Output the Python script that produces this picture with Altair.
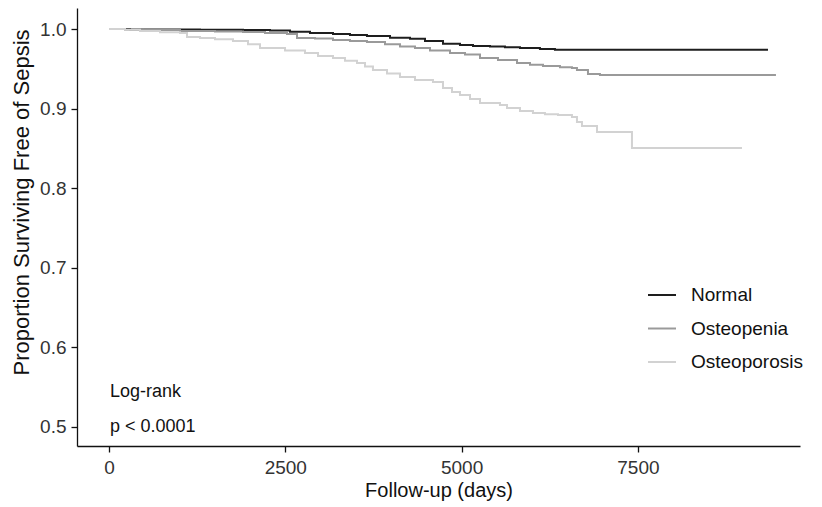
import altair as alt
import pandas as pd

groups = ["Normal", "Osteopenia", "Osteoporosis"]
colors = ["#1e1e1e", "#9a9a9a", "#d2d2d2"]

normal_days = [0, 298, 723, 1290, 1900, 2283, 2567, 2850, 3176, 3417, 3658, 3985, 4268,
               4481, 4736, 4977, 5162, 5403, 5615, 5828, 6111, 6324, 9345]
normal_surv = [1.0, 0.9995, 0.9993, 0.999, 0.9987, 0.998, 0.9966, 0.995, 0.9937, 0.9925,
               0.9912, 0.989, 0.9878, 0.985, 0.9815, 0.980, 0.9786, 0.978, 0.977, 0.9761,
               0.975, 0.974, 0.974]

osteopenia_days = [0, 227, 482, 1007, 1503, 1900, 2212, 2524, 2666, 2921, 3176, 3417, 3658,
                   3914, 4127, 4339, 4552, 4836, 5048, 5261, 5516, 5786, 5970, 6154, 6395,
                   6565, 6636, 6792, 6962, 9458]
osteopenia_surv = [1.0, 0.999, 0.9987, 0.9975, 0.997, 0.9962, 0.995, 0.9937, 0.9887, 0.988,
                   0.9862, 0.985, 0.9837, 0.981, 0.978, 0.976, 0.973, 0.9699, 0.968, 0.9636,
                   0.961, 0.9573, 0.955, 0.9535, 0.952, 0.951, 0.9485, 0.9435, 0.9422, 0.9422]

osteoporosis_days = [0, 227, 440, 723, 1007, 1106, 1290, 1503, 1758, 1971, 2141, 2496, 2779,
                     2964, 3176, 3346, 3517, 3630, 3743, 3942, 4126, 4339, 4594, 4736, 4864,
                     4977, 5119, 5261, 5544, 5644, 5828, 6012, 6182, 6367, 6565, 6636, 6707,
                     6920, 7416, 8976]
osteoporosis_surv = [1.0, 0.999, 0.9975, 0.996, 0.995, 0.99, 0.9887, 0.987, 0.985, 0.981,
                     0.9761, 0.973, 0.9699, 0.966, 0.9636, 0.96, 0.9573, 0.953, 0.9485, 0.944,
                     0.9397, 0.936, 0.9334, 0.9259, 0.921, 0.9171, 0.912, 0.907, 0.9045,
                     0.9008, 0.897, 0.8945, 0.893, 0.892, 0.8895, 0.8832, 0.8782, 0.8706,
                     0.8505, 0.8505]

x_ticks = [0, 2500, 5000, 7500]
y_ticks = [0.5, 0.6, 0.7, 0.8, 0.9, 1.0]
annot_text = ["Log-rank", "p < 0.0001"]
annot_y = [0.538, 0.4942]

rows = []
for g, d, s in [("Normal", normal_days, normal_surv),
                ("Osteopenia", osteopenia_days, osteopenia_surv),
                ("Osteoporosis", osteoporosis_days, osteoporosis_surv)]:
    for i, (dd, ss) in enumerate(zip(d, s)):
        rows.append({"group": g, "day": dd, "surv": ss, "order": i})
df = pd.DataFrame(rows)
ann = pd.DataFrame({"text": annot_text, "y": annot_y, "x": [0, 0]})

FONT = "Liberation Sans"

xs = alt.Scale(domain=[-454, 9799], nice=False, zero=False)
ys = alt.Scale(domain=[0.4761, 1.0264], nice=False, zero=False)

lines = alt.Chart(df).mark_line(interpolate="step-after", strokeWidth=2).encode(
    x=alt.X("day:Q", scale=xs, title="Follow-up (days)",
            axis=alt.Axis(values=x_ticks, format="d", titleY=34, titleBaseline="top")),
    y=alt.Y("surv:Q", scale=ys, title="Proportion Surviving Free of Sepsis",
            axis=alt.Axis(values=y_ticks, format=".1f", titleX=-44, titleY=194,
                          titleFontSize=22)),
    color=alt.Color("group:N", scale=alt.Scale(domain=groups, range=colors),
                    legend=alt.Legend(title=None, orient="none", legendX=570, legendY=272,
                                      symbolType="stroke", symbolSize=784, symbolStrokeWidth=2,
                                      labelFontSize=19, labelFont=FONT, labelColor="#111",
                                      labelOffset=14, rowPadding=8.5, padding=0)),
    order="order:Q",
)

texts = alt.Chart(ann).mark_text(align="left", baseline="alphabetic", font=FONT,
                                 fontSize=18, color="#111", dx=1).encode(
    x=alt.X("x:Q", scale=xs),
    y=alt.Y("y:Q", scale=ys),
    text="text:N",
)

chart = alt.layer(lines, texts).properties(
    width=723, height=438,
    autosize=alt.AutoSizeParams(type="none"),
    padding={"left": 69, "top": 0, "right": 10, "bottom": 57},
).configure_view(stroke=None).configure_axis(
    grid=False, domainColor="#111", domainWidth=1.3, tickColor="#111", tickWidth=1.3,
    tickSize=6, labelFont=FONT, labelFontSize=19, labelColor="#333", labelPadding=5,
    titleFont=FONT, titleFontSize=20, titleColor="#111", titleFontWeight="normal",
).configure_axisX(labelPadding=6)

chart.save("out.html", embed_options={"renderer": "svg", "actions": False})
